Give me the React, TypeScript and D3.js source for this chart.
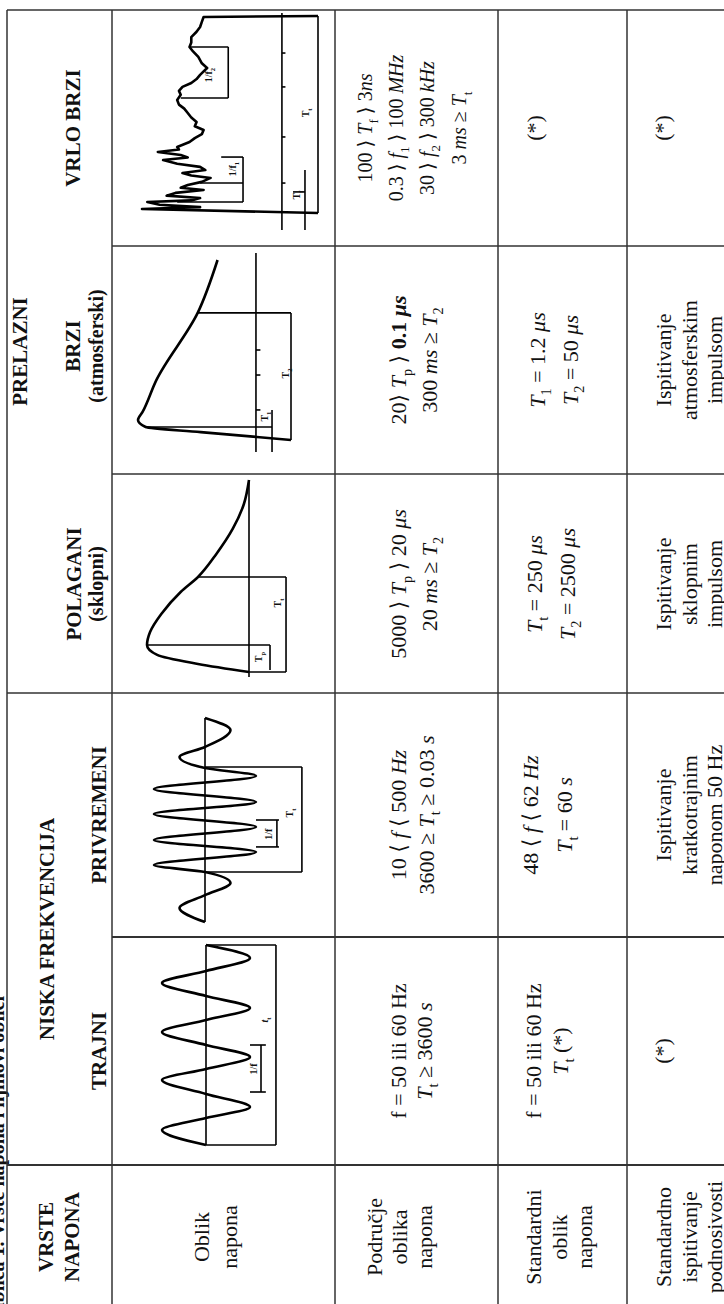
import React from 'react';
import * as d3 from 'd3';

const W = 724;
const H = 1304;

// table frame: u runs along the (rotated) table, v across it
const colEdges = [-6, 139, 367, 611, 830, 1058, 1294];
const rowEdges = [7, 112, 335, 498, 627, 780];
const colCenters = [67, 253, 489, 720, 944, 1176];

// header texts
const headerGroups = ['VRSTE', 'NAPONA', 'NISKA FREKVENCIJA', 'PRELAZNI'];
const subHeaders = ['TRAJNI', 'PRIVREMENI', 'POLAGANI', 'BRZI', 'VRLO BRZI'];
const subNotes = ['', '', '(sklopni)', '(atmosferski)', ''];

// row titles in first column
const rowLabels = [
  ['Oblik', 'napona'],
  ['Područje', 'oblika', 'napona'],
  ['Standardni', 'oblik', 'napona'],
  ['Standardno', 'ispitivanje', 'podnosivosti'],
];

// {..} italic, [..] bold, _x subscript
const rangeTexts = [
  ['f = 50 ili 60 Hz', '{T}_t ≥ 3600 {s}'],
  ['10 ⟨ {f} ⟨ 500 {Hz}', '3600 ≥ {T}_t ≥ 0.03 {s}'],
  ['5000 ⟩ {T}_p ⟩ 20 {μs}', '20 {ms} ≥ {T}_2'],
  ['20⟩ {T}_p ⟩ [0.1 {μs}]', '300 {ms} ≥ {T}_2'],
  ['100 ⟩ {T}_f ⟩ 3{ns}', '0.3 ⟩ {f}_1 ⟩ 100 {MHz}', '30 ⟩ {f}_2 ⟩ 300 {kHz}', '3 {ms} ≥ {T}_t'],
];
const standardTexts = [
  ['f = 50 ili 60 Hz', '{T}_t (*)'],
  ['48 ⟨ {f} ⟨ 62 {Hz}', '{T}_t = 60 {s}'],
  ['{T}_t = 250 {μs}', '{T}_2 = 2500 {μs}'],
  ['{T}_1 = 1.2 {μs}', '{T}_2 = 50 {μs}'],
  ['(*)'],
];
const testTexts = [
  ['(*)'],
  ['Ispitivanje', 'kratkotrajnim', 'naponom 50 Hz'],
  ['Ispitivanje', 'sklopnim', 'impulsom'],
  ['Ispitivanje', 'atmosferskim', 'impulsom'],
  ['(*)'],
];

// waveforms: [time 0..100, amplitude]
const trajniWave = [[0, 0], [7.5, 1], [13.5, 0], [19, -1], [25.5, 0], [32.5, 1], [38, 0], [44, -1], [50, 0], [56.5, 1], [62.5, 0], [68.5, -1], [74.5, 0], [81, 1], [87, 0], [93.5, -1], [100, 0]];
const privremeniWave = [[0, 0], [6.9, 1], [13.2, 0], [19.1, -1], [24.5, 0], [27.9, 2], [34.3, -2], [40.2, 2], [46.6, -2], [52.9, 2], [58.8, -2], [65.2, 2], [71.6, -2], [75.5, 0], [80.9, 1], [85.8, 0], [94.1, -1], [100, 0]];
const polaganiWave = [[0, 0], [4.2, 0.5], [8.9, 0.9], [14.1, 1], [20.8, 0.97], [30.2, 0.86], [41.7, 0.67], [49.5, 0.5], [61.5, 0.32], [74.5, 0.16], [87.5, 0.05], [100, 0]];
const brziWave = [[0, 0], [4.4, 0.59], [7.2, 0.95], [11.1, 1], [15.6, 0.97], [33.3, 0.88], [70.6, 0.61], [100, 0.48]];
const vrloBrziWave = [[0, 0], [2, 1], [3, 0.67], [4.2, 0.9], [5.6, 0.97], [6.4, 0.72], [7.6, 0.67], [8.8, 0.86], [10.2, 0.81], [11.7, 0.65], [12.8, 0.78], [14.2, 0.74], [15.8, 0.66], [17.8, 0.61], [19, 0.72], [20.3, 0.77], [21.8, 0.64], [23.4, 0.67], [25, 0.8], [26.9, 0.88], [28.2, 0.74], [29.4, 0.78], [31, 0.91], [32.2, 0.79], [33.5, 0.8], [36, 0.73], [38, 0.7], [40, 0.66], [42.1, 0.65], [44, 0.7], [46.2, 0.69], [48.5, 0.72], [50.8, 0.74], [53, 0.76], [55, 0.79], [57.4, 0.8], [60, 0.78], [62, 0.79], [64, 0.77], [66, 0.72], [68, 0.69], [70.1, 0.67], [73.6, 0.63], [76, 0.66], [79.2, 0.68], [82, 0.71], [84.3, 0.73], [86.5, 0.72], [89.3, 0.72], [92, 0.69], [94.4, 0.67], [97, 0.66], [99.5, 0.65], [100, 0]];

// dimension lines of each sketch, same units as the wave
const trajniMarks = [[[0, 0], [100, 0]], [[0, 0], [0, -1.59]], [[100, 0], [100, -1.59]], [[0, -1.59], [100, -1.59]], [[26.5, -1], [26.5, -1.36]], [[50, -1], [50, -1.36]], [[26.5, -1.25], [50, -1.25]]];
const privremeniMarks = [[[0, 0], [100, 0]], [[24.5, 0], [24.5, -3.8]], [[76, 0], [76, -3.8]], [[24.5, -3.8], [76, -3.8]], [[36.8, -2], [36.8, -2.9]], [[50, -2], [50, -2.9]], [[36.8, -2.82], [50, -2.82]]];
const polaganiMarks = [[[-2.6, 0], [100, 0]], [[14.1, 1], [14.1, -0.206]], [[1, -0.206], [14.1, -0.206]], [[0, 0], [0, -0.363]], [[49.5, 0.5], [49.5, -0.363]], [[0, -0.363], [49.5, -0.363]]];
const brziMarks = [[[-6.7, 0.229], [103.9, 0.229]], [[70.6, 0.61], [70.6, 0]], [[0, 0], [70.6, 0]], [[-6.7, 0.124], [16.7, 0.124]], [[7.2, 0.95], [7.2, 0.124]], [[50, 0.229], [50, 0.2]], [[36.1, 0.229], [36.1, 0.2]], [[16.7, 0.229], [16.7, 0.2]]];
const vrloBrziMarks = [[[-8.6, 0.205], [101.5, 0.205]], [[0, 0], [100, 0]], [[58.4, 0.78], [58.4, 0.51]], [[84.3, 0.73], [84.3, 0.51]], [[58.4, 0.51], [84.3, 0.51]], [[5.6, 0.8], [5.6, 0.426]], [[15.2, 0.67], [15.2, 0.426]], [[28.4, 0.55], [28.4, 0.426]], [[5.6, 0.426], [28.4, 0.426]], [[-8.6, 0.074], [21.8, 0.074]], [[10.7, 0.142], [10.7, 0.074]], [[81.2, 0.205], [81.2, 0.185]], [[64, 0.205], [64, 0.185]], [[38.6, 0.205], [38.6, 0.185]], [[15.2, 0.205], [15.2, 0.185]]];

const trajniLabels = [{ t: 62.5, a: -1.41, s: '{t}_t' }, { t: 38, a: -1.16, s: '1/f' }];
const privremeniLabels = [{ t: 53.4, a: -3.45, s: 'T_t' }, { t: 43, a: -2.63, s: '1/f' }];
const polaganiLabels = [{ t: 7.8, a: -0.127, s: 'T_p' }, { t: 35.9, a: -0.314, s: 'T_t' }];
const brziLabels = [{ t: 13, a: 0.15, s: 'T_1' }, { t: 37, a: 0.015, s: 'T_2' }];
const vrloBrziLabels = [{ t: 70, a: 0.6, s: '1/f_2' }, { t: 22.3, a: 0.466, s: '1/f_1' }, { t: 50.8, a: 0.051, s: 'T_t' }, { t: 9.1, a: 0.102, s: 'T_f' }];

const sketches = [
  { data: trajniWave, marks: trajniMarks, labels: trajniLabels, u: [159, 359], v: [206, 162], curve: d3.curveMonotoneX },
  { data: privremeniWave, marks: privremeniMarks, labels: privremeniLabels, u: [382, 586], v: [205, 179.5], curve: d3.curveMonotoneX },
  { data: polaganiWave, marks: polaganiMarks, labels: polaganiLabels, u: [632, 824], v: [249, 147], curve: d3.curveMonotoneX },
  { data: brziWave, marks: brziMarks, labels: brziLabels, u: [864, 1044], v: [291, 138], curve: d3.curveMonotoneX },
  { data: vrloBrziWave, marks: vrloBrziMarks, labels: vrloBrziLabels, u: [1091, 1288], v: [318, 142], curve: d3.curveLinear },
];

// baselines of the text lines per row and column
const rangeBase = [[406, 432], [406, 434], [406, 437], [406, 437], [372, 403, 434, 466]];
const standardBase = [[541, 568], [538, 572], [542, 575], [545, 578], [542]];
const testBase = [[670], [671, 697, 722], [671, 697, 722], [671, 697, 722], [670]];
const labelBase = [[209, 237], [382, 407, 432], [541, 567, 592], [671, 697, 722]];

const SERIF = '"Liberation Serif", "DejaVu Serif", serif';

type Run = { s: string; it: boolean; b: boolean; sub: boolean };
function parse(src: string): Run[] {
  const runs: Run[] = [];
  let it = false;
  let b = false;
  for (let i = 0; i < src.length; i++) {
    const c = src[i];
    if (c === '{') { it = true; continue; }
    if (c === '}') { it = false; continue; }
    if (c === '[') { b = true; continue; }
    if (c === ']') { b = false; continue; }
    if (c === '_') { runs.push({ s: src[i + 1], it: false, b, sub: true }); i++; continue; }
    const last = runs[runs.length - 1];
    if (last && !last.sub && last.it === it && last.b === b) last.s += c;
    else runs.push({ s: c, it, b, sub: false });
  }
  return runs;
}

function Rich({ src, x, y, size, bold }: { src: string; x: number; y: number; size: number; bold?: boolean }) {
  const runs = parse(src);
  let shifted = false;
  return (
    <text x={x} y={y} textAnchor="middle" fontSize={size} fontFamily={SERIF}
      fontWeight={bold ? 'bold' : 'normal'} style={{ whiteSpace: 'pre' }} fill="#111">
      {runs.map((r, i) => {
        let dy = 0;
        if (r.sub && !shifted) { dy = size * 0.28; shifted = true; }
        else if (!r.sub && shifted) { dy = -size * 0.28; shifted = false; }
        return (
          <tspan key={i} dy={dy || undefined}
            fontStyle={r.it ? 'italic' : undefined}
            fontWeight={r.b ? 'bold' : undefined}
            fontSize={r.sub ? size * 0.65 : undefined}>{r.s}</tspan>
        );
      })}
    </text>
  );
}

function Sketch({ sk }: { sk: any }) {
  const xs = d3.scaleLinear().domain([0, 100]).range(sk.u);
  const ys = d3.scaleLinear().domain([0, 1]).range(sk.v);
  const wave = d3.line<number[]>().x(d => xs(d[0])).y(d => ys(d[1])).curve(sk.curve);
  const seg = d3.line<number[]>().x(d => xs(d[0])).y(d => ys(d[1]));
  return (
    <g>
      {sk.marks.map((m: number[][], i: number) => (
        <path key={i} d={seg(m) || ''} fill="none" stroke="#000" strokeWidth={1.6} />
      ))}
      <path d={wave(sk.data) || ''} fill="none" stroke="#000" strokeWidth={2.6} strokeLinejoin="round" />
      {sk.labels.map((l: any, i: number) => (
        <Rich key={i} src={l.s} x={xs(l.t)} y={ys(l.a)} size={10} bold />
      ))}
    </g>
  );
}

export default function App() {
  const right = rowEdges[rowEdges.length - 1];
  const top = colEdges[colEdges.length - 1];
  const gridLines: { u1: number; v1: number; u2: number; v2: number; w: number }[] = [];
  gridLines.push({ u1: top, v1: rowEdges[0], u2: top, v2: right, w: 1.5 });
  rowEdges.slice(0, 5).forEach(v => gridLines.push({ u1: colEdges[0], v1: v, u2: top, v2: v, w: 1.5 }));
  colEdges.slice(1, 6).forEach((u, i) => {
    const full = i === 0 || i === 2;
    gridLines.push({ u1: u, v1: full ? rowEdges[0] : rowEdges[1], u2: u, v2: right, w: i < 2 ? 2 : 1.5 });
  });

  const subU = [colCenters[1], colCenters[2], colCenters[3], 958, colCenters[5]];
  const subV = [106, 106, 81, 80, 80];

  return (
    <svg width={W} height={H} style={{ position: 'absolute', left: 0, top: 0, background: '#fff' }}>
      <rect width={W} height={H} fill="#fff" />
      <g transform={`translate(0,${H}) rotate(-90)`}>
        <text x={-20} y={4} fontSize={20} fontFamily={SERIF} fontWeight="bold" fill="#111">Tablica 1. Vrste napona i njihovi oblici</text>
        {gridLines.map((l, i) => (
          <line key={i} x1={l.u1} y1={l.v1} x2={l.u2} y2={l.v2} stroke="#333" strokeWidth={l.w} />
        ))}
        {/* header */}
        <Rich src={headerGroups[0]} x={colCenters[0]} y={53} size={21} bold />
        <Rich src={headerGroups[1]} x={colCenters[0]} y={79} size={21} bold />
        <Rich src={headerGroups[2]} x={(colEdges[1] + colEdges[3]) / 2} y={54} size={21} bold />
        <Rich src={headerGroups[3]} x={(colEdges[3] + colEdges[6]) / 2} y={27} size={21} bold />
        {subHeaders.map((s, i) => (
          <Rich key={s} src={s} x={subU[i]} y={subV[i]} size={21} bold />
        ))}
        {subNotes.map((s, i) => s ? <Rich key={s} src={s} x={subU[i]} y={103} size={20} bold /> : null)}
        {/* first column */}
        {rowLabels.map((lines, r) => lines.map((s, k) => (
          <Rich key={r + '-' + k} src={s} x={colCenters[0]} y={labelBase[r][k]} size={22} />
        )))}
        {sketches.map((sk, i) => <Sketch key={i} sk={sk} />)}
        {rangeTexts.map((lines, c) => lines.map((s, k) => (
          <Rich key={'r' + c + k} src={s} x={colCenters[c + 1]} y={rangeBase[c][k]} size={c === 4 ? 20 : 22} />
        )))}
        {standardTexts.map((lines, c) => lines.map((s, k) => (
          <Rich key={'s' + c + k} src={s} x={colCenters[c + 1]} y={standardBase[c][k]} size={22} />
        )))}
        {testTexts.map((lines, c) => lines.map((s, k) => (
          <Rich key={'t' + c + k} src={s} x={colCenters[c + 1]} y={testBase[c][k]} size={22} />
        )))}
      </g>
    </svg>
  );
}
